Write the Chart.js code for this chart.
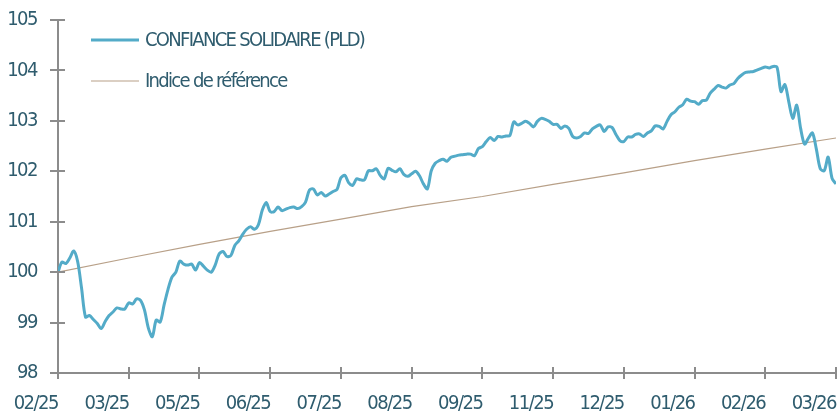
<!DOCTYPE html>
<html>
<head>
<meta charset="utf-8">
<script src="https://cdn.jsdelivr.net/npm/chart.js@4.4.1/dist/chart.umd.min.js"></script>
<style>
  html, body { margin: 0; padding: 0; background: #fff; }
  #wrap { width: 837px; height: 411px; position: relative; }
</style>
</head>
<body>
<div id="wrap"><canvas id="myChart"></canvas></div>
<script>
'use strict';
// data
const xLabels = ['02/25', '03/25', '05/25', '06/25', '07/25', '08/25', '09/25', '11/25', '12/25', '01/26', '02/26', '03/26'];
const tickEvery = 18;

const fundLabel = 'CONFIANCE SOLIDAIRE (PLD)';
const fundValues = [
  100.00, 100.20, 100.17, 100.28, 100.42, 100.21, 99.68, 99.11, 99.14, 99.06,
  98.98, 98.88, 99.02, 99.14, 99.21, 99.29, 99.27, 99.27, 99.39, 99.37,
  99.47, 99.44, 99.25, 98.89, 98.72, 99.05, 99.01, 99.35, 99.66, 99.90,
  100.00, 100.22, 100.16, 100.14, 100.16, 100.04, 100.19, 100.12, 100.04, 100.00,
  100.14, 100.36, 100.41, 100.31, 100.33, 100.53, 100.62, 100.75, 100.85, 100.90,
  100.85, 100.94, 101.23, 101.38, 101.20, 101.20, 101.29, 101.22, 101.25, 101.28,
  101.29, 101.26, 101.30, 101.39, 101.63, 101.65, 101.53, 101.58, 101.51, 101.55,
  101.60, 101.64, 101.87, 101.92, 101.77, 101.72, 101.85, 101.83, 101.83, 102.01,
  102.01, 102.05, 101.92, 101.85, 102.06, 102.02, 101.99, 102.05, 101.94, 101.90,
  101.95, 102.00, 101.91, 101.75, 101.65, 102.01, 102.16, 102.21, 102.24, 102.20,
  102.28, 102.30, 102.32, 102.33, 102.34, 102.34, 102.31, 102.45, 102.49, 102.59,
  102.67, 102.61, 102.69, 102.68, 102.70, 102.71, 102.98, 102.92, 102.95, 102.99,
  102.95, 102.88, 102.99, 103.05, 103.03, 102.99, 102.93, 102.93, 102.85, 102.90,
  102.85, 102.69, 102.66, 102.69, 102.76, 102.75, 102.84, 102.89, 102.92, 102.79,
  102.88, 102.87, 102.73, 102.61, 102.59, 102.68, 102.68, 102.73, 102.74, 102.69,
  102.76, 102.80, 102.90, 102.89, 102.84, 102.99, 103.12, 103.18, 103.27, 103.32,
  103.43, 103.39, 103.38, 103.33, 103.40, 103.41, 103.55, 103.63, 103.70, 103.67,
  103.65, 103.71, 103.74, 103.84, 103.91, 103.96, 103.97, 103.98, 104.01, 104.04,
  104.07, 104.05, 104.08, 104.06, 103.58, 103.72, 103.37, 103.05, 103.31, 102.85,
  102.54, 102.66, 102.76, 102.44, 102.05, 102.01, 102.28, 101.86, 101.75
];

const benchLabel = 'Indice de référence';
// one value per x tick
const benchValues = [100.00, 100.28, 100.55, 100.81, 101.05, 101.30, 101.50, 101.74, 101.97, 102.21, 102.44, 102.66];

const yMin = 98, yMax = 105;

// styles
const fontFamily = "'DejaVu Sans Condensed', 'DejaVu Sans', sans-serif";
const textColor = '#2f5c6e';
const axisColor = '#8c8c8c';
const fundColor = '#53abc8';
const benchColor = '#b8a088';

// squeeze the text a bit, the original uses a narrow font
const narrowText = {
  id: 'narrowText',
  beforeLayout(chart) { chart.ctx.letterSpacing = '-1.5px'; },
  beforeDraw(chart) { chart.ctx.letterSpacing = '-1.5px'; }
};

const crossTicks = {
  id: 'crossTicks',
  afterDraw(chart) {
    const ctx = chart.ctx;
    const xs = chart.scales.x, ys = chart.scales.y;
    ctx.save();
    ctx.strokeStyle = axisColor;
    ctx.lineWidth = 2;
    ctx.beginPath();
    xs.ticks.forEach((t, i) => {
      const px = Math.round(xs.getPixelForTick(i));
      ctx.moveTo(px, xs.top - 6);
      ctx.lineTo(px, xs.top + 6);
    });
    ys.ticks.forEach((t, i) => {
      const py = Math.round(ys.getPixelForTick(i));
      ctx.moveTo(ys.right - 8, py);
      ctx.lineTo(ys.right + 7, py);
    });
    ctx.stroke();
    ctx.restore();
  }
};

const insideLegend = {
  id: 'insideLegend',
  afterDraw(chart) {
    const ctx = chart.ctx;
    const rows = [
      { ds: chart.data.datasets[0], y: 40, w: 3 },
      { ds: chart.data.datasets[1], y: 81, w: 1.2 }
    ];
    ctx.save();
    ctx.font = '20px ' + fontFamily;
    ctx.letterSpacing = '-1.7px';
    ctx.textBaseline = 'middle';
    ctx.fillStyle = textColor;
    rows.forEach(r => {
      ctx.strokeStyle = r.ds.borderColor;
      ctx.lineWidth = r.w;
      ctx.beginPath();
      ctx.moveTo(91, r.y);
      ctx.lineTo(139, r.y);
      ctx.stroke();
      ctx.fillText(r.ds.label, 145, r.y + 1);
    });
    ctx.restore();
  }
};

const ctx = document.getElementById('myChart');
const myChart = new Chart(ctx.getContext('2d'), {
  type: 'line',
  data: {
    datasets: [{
      label: fundLabel,
      data: fundValues.map((v, i) => ({ x: i, y: v })),
      borderColor: fundColor,
      borderWidth: 3,
      pointRadius: 0,
      tension: 0.3
    }, {
      label: benchLabel,
      data: benchValues.map((v, i) => ({ x: i * tickEvery, y: v })),
      borderColor: benchColor,
      borderWidth: 1.2,
      pointRadius: 0,
      tension: 0
    }]
  },
  options: {
    responsive: true,
    maintainAspectRatio: false,
    animation: false,
    layout: { padding: { top: 20, right: 1, left: 0, bottom: 0 } },
    plugins: {
      legend: { display: false },
      tooltip: { enabled: false }
    },
    scales: {
      x: {
        type: 'linear',
        min: 0,
        max: (xLabels.length - 1) * tickEvery,
        grid: { display: false, drawTicks: false },
        border: { display: true, color: axisColor, width: 2 },
        afterFit: s => { s.height = 38; s.paddingLeft = 0; s.paddingRight = 0; },
        ticks: {
          stepSize: tickEvery,
          autoSkip: false,
          maxRotation: 0,
          align: 'end',
          padding: 19,
          color: textColor,
          font: { family: fontFamily, size: 20 },
          callback: v => xLabels[Math.round(v / tickEvery)]
        }
      },
      y: {
        min: yMin,
        max: yMax,
        grid: { display: false, drawTicks: false },
        border: { display: true, color: axisColor, width: 2 },
        afterFit: s => { s.width = 58; s.paddingTop = 0; s.paddingBottom = 0; },
        ticks: {
          stepSize: 1,
          padding: 21,
          color: textColor,
          font: { family: fontFamily, size: 20 }
        }
      }
    }
  },
  plugins: [narrowText, crossTicks, insideLegend]
});
</script>
</body>
</html>
